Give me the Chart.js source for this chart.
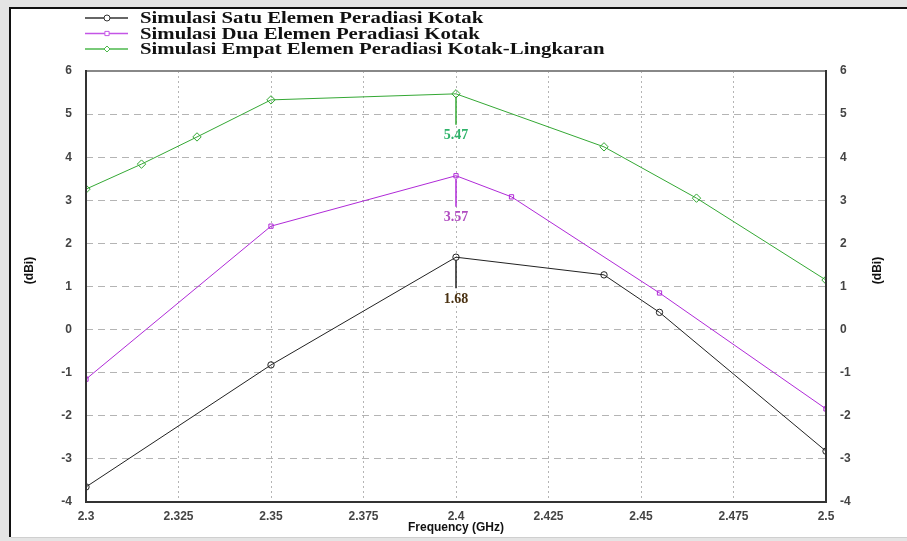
<!DOCTYPE html>
<html><head><meta charset="utf-8">
<script src="https://cdn.jsdelivr.net/npm/chart.js@4.4.1/dist/chart.umd.min.js"></script>
<style>html,body{margin:0;padding:0;background:#fff;}#wrap{width:907px;height:541px;position:relative;}</style>
</head><body><div id="wrap"><canvas id="c" width="907" height="541"></canvas></div>
<script>
const seriesNames = ["Simulasi Satu Elemen Peradiasi Kotak","Simulasi Dua Elemen Peradiasi Kotak","Simulasi Empat Elemen Peradiasi Kotak-Lingkaran"];
const satuX = [2.3, 2.35, 2.4, 2.44, 2.455, 2.5];
const satuY = [-3.65, -0.82, 1.68, 1.27, 0.40, -2.82];
const duaX = [2.3, 2.35, 2.4, 2.415, 2.455, 2.5];
const duaY = [-1.15, 2.40, 3.57, 3.08, 0.85, -1.84];
const empatX = [2.3, 2.315, 2.33, 2.35, 2.4, 2.44, 2.465, 2.5];
const empatY = [3.26, 3.84, 4.47, 5.33, 5.47, 4.24, 3.05, 1.15];
const xTicks = [2.3, 2.325, 2.35, 2.375, 2.4, 2.425, 2.45, 2.475, 2.5];
const yTicks = [-4,-3,-2,-1,0,1,2,3,4,5,6];
const markerLabels = [{series:2, x:2.4, y:5.47, text:"5.47", color:"#2fb36a"},
                      {series:1, x:2.4, y:3.57, text:"3.57", color:"#b04cc0"},
                      {series:0, x:2.4, y:1.68, text:"1.68", color:"#4a3212"}];
const colors = ["#222222", "#b02ad8", "#34a834"];
const legendColors = ["#333333", "#c455e6", "#4cb84c"];
const styles = ["circle", "rect", "rectRot"];
const radii = [3.2, 3, 4.2];

const toPts = (xs, ys) => xs.map((x,i)=>({x:x, y:ys[i]}));
const datasets = [toPts(satuX,satuY), toPts(duaX,duaY), toPts(empatX,empatY)].map((d,i)=>({
  label: seriesNames[i], data: d, borderColor: colors[i], backgroundColor: 'rgba(0,0,0,0)',
  borderWidth: 1, pointStyle: styles[i], pointRadius: radii[i], pointBorderWidth: 1,
  pointBorderColor: colors[i], pointBackgroundColor: 'rgba(255,255,255,0)', tension: 0, yAxisID: 'y'
}));

const framePlugin = {
  id: 'frame',
  beforeDraw(chart) {
    const ctx = chart.ctx;
    ctx.save();
    ctx.fillStyle = '#e4e4e4';
    ctx.fillRect(0,0,907,541);
    ctx.fillStyle = '#ffffff';
    ctx.fillRect(11,9,896,528);
    ctx.fillStyle = '#111';
    ctx.fillRect(9,7,898,2);
    ctx.fillRect(9,7,2,530);
    ctx.fillStyle = '#cfcfcf';
    ctx.fillRect(11,537,896,1);
    ctx.restore();
  },
  afterDraw(chart) {
    const ctx = chart.ctx, a = chart.chartArea;
    const xs = chart.scales.x, ys = chart.scales.y;
    ctx.save();
    // borders
    ctx.fillStyle = '#888';
    ctx.fillRect(a.left-1, a.top-1, a.right-a.left+2, 2);
    ctx.fillStyle = '#333';
    ctx.fillRect(a.left-1, a.top-1, 2, a.bottom-a.top+2);
    ctx.fillRect(a.right-1, a.top-1, 2, a.bottom-a.top+2);
    ctx.fillRect(a.left-1, a.bottom-1, a.right-a.left+2, 2);
    // legend
    const ly = [18, 33.5, 49];
    for (let i=0;i<3;i++){
      ctx.strokeStyle = legendColors[i]; ctx.lineWidth = 1.3;
      ctx.beginPath(); ctx.moveTo(85, ly[i]); ctx.lineTo(128, ly[i]); ctx.stroke();
      ctx.fillStyle = '#ffffff';
      ctx.strokeStyle = legendColors[i]; ctx.lineWidth = 1;
      Chart.helpers.drawPoint(ctx, {pointStyle: styles[i], radius: i===1?3:3, borderWidth:1}, 107, ly[i]);
      ctx.save();
      ctx.translate(140, ly[i]+1);
      ctx.scale(1.3, 1);
      ctx.font = 'bold 16px "Liberation Serif", "Times New Roman", serif';
      ctx.textBaseline = 'middle';
      ctx.textAlign = 'left';
      ctx.fillStyle = '#111';
      ctx.fillText(seriesNames[i], 0, 0);
      ctx.restore();
    }
    // annotations
    markerLabels.forEach(m=>{
      const px = xs.getPixelForValue(m.x), py = ys.getPixelForValue(m.y);
      ctx.strokeStyle = colors[m.series]; ctx.lineWidth = 1.5;
      ctx.beginPath(); ctx.moveTo(px, py+3); ctx.lineTo(px, py+31); ctx.stroke();
      ctx.fillStyle = m.color;
      ctx.font = 'bold 14px "Liberation Serif", "Times New Roman", serif';
      ctx.textAlign = 'center';
      ctx.textBaseline = 'middle';
      ctx.fillText(m.text, px, py+42);
    });
    // axis titles
    ctx.fillStyle = '#111';
    ctx.textBaseline = 'middle';
    ctx.font = 'bold 12px "Liberation Sans", Arial, sans-serif';
    ctx.textAlign = 'center';
    ctx.fillText('Frequency (GHz)', (a.left+a.right)/2, 528);
    const midY = (a.top+a.bottom)/2 - 16;
    [[30, midY],[878, midY]].forEach(([x,y])=>{
      ctx.save(); ctx.translate(x,y); ctx.rotate(-Math.PI/2);
      ctx.fillText('(dBi)', 0, 0); ctx.restore();
    });
    ctx.restore();
  }
};

const tickFont = {family: '"Liberation Sans", Arial, sans-serif', size: 12, weight: 'bold'};
new Chart(document.getElementById('c'), {
  type: 'line',
  data: { datasets },
  options: {
    responsive: false, animation: false, devicePixelRatio: 1,
    layout: { padding: {top: 71, left: 0, right: 0, bottom: 0} },
    plugins: { legend: {display:false}, tooltip: {enabled:false} },
    scales: {
      x: {
        type: 'linear', min: 2.3, max: 2.5,
        afterBuildTicks: s => { s.ticks = xTicks.map(v=>({value:v})); },
        afterFit: s => { s.height = 39; },
        ticks: { font: tickFont, color: '#444', padding: 7, callback: v => String(v), maxRotation:0 },
        grid: { drawTicks: false, color: '#b4b4b4', lineWidth: 1 },
        border: { display: false, dash: [2,3] }
      },
      y: {
        type: 'linear', position: 'left', min: -4, max: 6,
        afterBuildTicks: s => { s.ticks = yTicks.map(v=>({value:v})); },
        afterFit: s => { s.width = 86; },
        ticks: { font: tickFont, color: '#444', padding: 14 },
        grid: { drawTicks: false, color: '#b4b4b4', lineWidth: 1 },
        border: { display: false, dash: [7,5] }
      },
      y2: {
        type: 'linear', position: 'right', min: -4, max: 6,
        afterBuildTicks: s => { s.ticks = yTicks.map(v=>({value:v})); },
        afterFit: s => { s.width = 81; },
        ticks: { font: tickFont, color: '#444', padding: 14 },
        grid: { display: false, drawTicks: false },
        border: { display: false }
      }
    }
  },
  plugins: [framePlugin]
});
</script></body></html>
